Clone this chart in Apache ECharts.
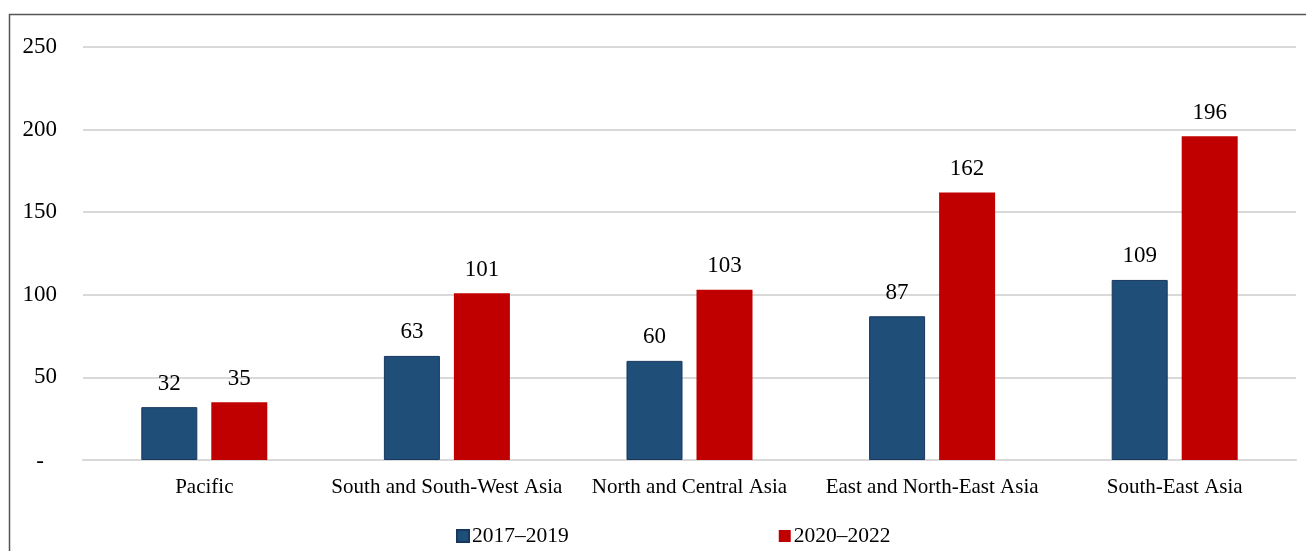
<!DOCTYPE html>
<html><head><meta charset="utf-8">
<script src="https://cdn.jsdelivr.net/npm/echarts@6/dist/echarts.min.js"></script>
<style>html,body{margin:0;padding:0;background:#fff}#c{width:1306px;height:551px}</style>
</head><body><div id="c"></div>
<script>
var categories = ['Pacific', 'South and South-West Asia', 'North and Central Asia', 'East and North-East Asia', 'South-East Asia'];
var series1Name = '2017\u20132019';
var series2Name = '2020\u20132022';
var series1 = [32, 63, 60, 87, 109];
var series2 = [35, 101, 103, 162, 196];
var yTicks = { min: 0, max: 250, interval: 50 };

var font = 'Liberation Serif';
var chart = echarts.init(document.getElementById('c'));
chart.setOption({
  animation: false,
  backgroundColor: '#fff',
  graphic: [{ type: 'rect', shape: { x: 9.5, y: 14.5, width: 1400, height: 700 }, style: { fill: 'none', stroke: '#555', lineWidth: 1.5 }, silent: true }],
  grid: { left: 83, right: 10, top: 47, bottom: 91 },
  legend: {
    left: 451, top: 520, itemWidth: 12, itemHeight: 12, itemGap: 210,
    icon: 'rect',
    textStyle: { fontFamily: font, fontSize: 21.5, color: '#000', padding: [0, 0, 0, -2] },
    data: [series1Name, series2Name]
  },
  xAxis: {
    type: 'category', data: categories,
    axisTick: { show: false },
    axisLine: { lineStyle: { color: '#d9d9d9', width: 2 } },
    axisLabel: { fontFamily: font, fontSize: 21, color: '#000', margin: 17, interval: 0 }
  },
  yAxis: {
    type: 'value', min: yTicks.min, max: yTicks.max, interval: yTicks.interval,
    axisLine: { show: false }, axisTick: { show: false },
    splitLine: { lineStyle: { color: '#d9d9d9', width: 2 } },
    axisLabel: {
      fontFamily: font, fontSize: 23, color: '#000', margin: 26,
      formatter: function (v) { return v === 0 ? '{d|-}' : String(v); },
      rich: { d: { fontFamily: font, fontSize: 23, color: '#000', padding: [4, 13, 0, 0] } }
    }
  },
  series: [
    {
      name: series1Name, type: 'bar', data: series1, barWidth: 56, barGap: '25%',
      itemStyle: { color: '#1F4E79', borderColor: '#17375E', borderWidth: 1 },
      label: { show: true, position: 'top', distance: 12, fontFamily: font, fontSize: 23, color: '#000' }
    },
    {
      name: series2Name, type: 'bar', data: series2, barWidth: 56,
      itemStyle: { color: '#C00000' },
      label: { show: true, position: 'top', distance: 12, fontFamily: font, fontSize: 23, color: '#000' }
    }
  ]
});
</script></body></html>
